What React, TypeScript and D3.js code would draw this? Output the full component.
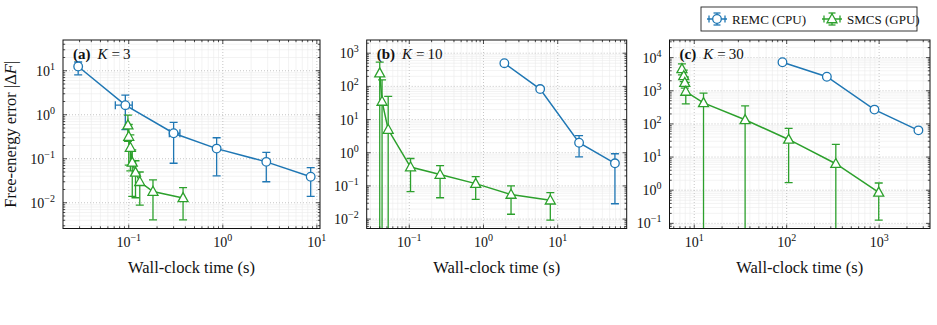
import React from 'react';
import * as d3 from 'd3';

const BLUE = '#1f77b4';
const GREEN = '#2ca02c';
const FONT = "'Liberation Serif', 'Times New Roman', 'DejaVu Serif', serif";

const seriesNames = ['REMC (CPU)', 'SMCS (GPU)'];

// K = 3
const remcTimeA = [0.029, 0.092, 0.3, 0.86, 2.9, 8.6];
const remcTimeLoA = [0.029, 0.072, 0.27, 0.86, 2.9, 8.6];
const remcTimeHiA = [0.029, 0.109, 0.35, 0.86, 2.9, 8.6];
const remcErrA = [12.5, 1.65, 0.38, 0.17, 0.085, 0.039];
const remcLoA = [8.1, 0.46, 0.079, 0.041, 0.03, 0.014];
const remcHiA = [15.8, 2.8, 0.67, 0.3, 0.14, 0.063];
const smcsTimeA = [0.098, 0.1, 0.104, 0.109, 0.118, 0.131, 0.181, 0.378];
const smcsErrA = [0.58, 0.32, 0.18, 0.083, 0.049, 0.03, 0.018, 0.0129];
const smcsLoA = [0.25, 0.072, 0.053, 0.014, 0.013, 0.0088, 0.0041, 0.0041];
const smcsHiA = [0.98, 0.6, 0.35, 0.16, 0.09, 0.05, 0.033, 0.022];

// K = 10
const remcTimeB = [1.91, 5.8, 19.4, 59];
const remcErrB = [500, 83, 2.0, 0.48];
const remcLoB = [440, 73, 0.75, 0.029];
const remcHiB = [560, 93, 3.3, 0.93];
const smcsTimeB = [0.04, 0.043, 0.052, 0.104, 0.26, 0.785, 2.35, 7.95];
const smcsErrB = [250, 35, 5.0, 0.37, 0.22, 0.117, 0.055, 0.037];
const smcsLoB = [0, 0, 0, 0.067, 0.044, 0.039, 0.014, 0.0093];
const smcsHiB = [535, 157, 50, 0.67, 0.41, 0.19, 0.1, 0.063];

// K = 30
const remcTimeC = [90, 272, 890, 2660];
const remcErrC = [7250, 2650, 270, 64];
const remcLoC = [6600, 2400, 245, 58];
const remcHiC = [7900, 2900, 295, 70];
const smcsTimeC = [7.36, 7.7, 7.9, 8.1, 12.6, 35.5, 105, 340, 990];
const smcsErrC = [4550, 2800, 1750, 950, 430, 133, 34, 6.3, 0.86];
const smcsLoC = [3000, 1900, 1200, 400, 0, 0, 1.7, 0, 0.125];
const smcsHiC = [6500, 4200, 2600, 1800, 850, 350, 73, 24, 1.65];

type Series = {
  color: string;
  marker: 'circle' | 'triangle';
  t: number[];
  v: number[];
  lo: number[];
  hi: number[];
  tLo?: number[];
  tHi?: number[];
};

const TOP = 40;
const BOTTOM = 228.5;

const panels = [
  {
    tag: '(a)', K: '3', left: 63, right: 320,
    xDomain: [0.02, 10.8], yDomain: [0.0026, 50],
    series: [
      { color: BLUE, marker: 'circle', t: remcTimeA, v: remcErrA, lo: remcLoA, hi: remcHiA, tLo: remcTimeLoA, tHi: remcTimeHiA },
      { color: GREEN, marker: 'triangle', t: smcsTimeA, v: smcsErrA, lo: smcsLoA, hi: smcsHiA },
    ] as Series[],
  },
  {
    tag: '(b)', K: '10', left: 366.7, right: 626.7,
    xDomain: [0.0267, 85], yDomain: [0.0052, 2500],
    series: [
      { color: BLUE, marker: 'circle', t: remcTimeB, v: remcErrB, lo: remcLoB, hi: remcHiB },
      { color: GREEN, marker: 'triangle', t: smcsTimeB, v: smcsErrB, lo: smcsLoB, hi: smcsHiB },
    ] as Series[],
  },
  {
    tag: '(c)', K: '30', left: 669.5, right: 930,
    xDomain: [5.4, 3550], yDomain: [0.07, 34000],
    series: [
      { color: BLUE, marker: 'circle', t: remcTimeC, v: remcErrC, lo: remcLoC, hi: remcHiC },
      { color: GREEN, marker: 'triangle', t: smcsTimeC, v: smcsErrC, lo: smcsLoC, hi: smcsHiC },
    ] as Series[],
  },
];

function decades(dom: number[]) {
  const out: number[] = [];
  for (let e = Math.ceil(Math.log10(dom[0])); e <= Math.floor(Math.log10(dom[1])); e++) out.push(e);
  return out;
}

function minors(dom: number[]) {
  const out: number[] = [];
  for (let e = Math.floor(Math.log10(dom[0])); e <= Math.floor(Math.log10(dom[1])); e++) {
    for (let k = 2; k <= 9; k++) {
      const v = k * Math.pow(10, e);
      if (v > dom[0] && v < dom[1]) out.push(v);
    }
  }
  return out;
}

const expLabel = (e: number) => (e < 0 ? '\u2212' + Math.abs(e) : String(e));

function Marker({ kind, cx, cy, color }: { kind: string; cx: number; cy: number; color: string }) {
  if (kind === 'circle') {
    return <circle cx={cx} cy={cy} r={4.3} fill="white" stroke={color} strokeWidth={1.3} />;
  }
  const s = 5;
  const pts = [[cx, cy - s * 1.05], [cx - s, cy + s * 0.75], [cx + s, cy + s * 0.75]];
  return <polygon points={pts.map(p => p.join(',')).join(' ')} fill="white" stroke={color} strokeWidth={1.3} />;
}

function Panel({ cfg, idx }: { cfg: typeof panels[number]; idx: number }) {
  const x = d3.scaleLog().domain(cfg.xDomain).range([cfg.left, cfg.right]);
  const y = d3.scaleLog().domain(cfg.yDomain).range([BOTTOM, TOP]);
  const xMaj = decades(cfg.xDomain);
  const yMaj = decades(cfg.yDomain);
  const xMin = minors(cfg.xDomain);
  const yMin = minors(cfg.yDomain);
  const clipId = `clip-${idx}`;
  const yPos = (v: number) => (v > 0 ? y(v) : BOTTOM + 20);
  const cap = 4;

  return (
    <g>
      <defs>
        <clipPath id={clipId}>
          <rect x={cfg.left} y={TOP} width={cfg.right - cfg.left} height={BOTTOM - TOP} />
        </clipPath>
      </defs>
      {/* grid */}
      <g>
        {xMin.map(v => <line key={'gx' + v} x1={x(v)} x2={x(v)} y1={TOP} y2={BOTTOM} stroke="#ebebeb" strokeWidth={0.6} />)}
        {yMin.map(v => <line key={'gy' + v} y1={y(v)} y2={y(v)} x1={cfg.left} x2={cfg.right} stroke="#ebebeb" strokeWidth={0.6} />)}
        {xMaj.map(e => <line key={'GX' + e} x1={x(10 ** e)} x2={x(10 ** e)} y1={TOP} y2={BOTTOM} stroke="#b8b8b8" strokeWidth={0.8} strokeDasharray="1,2" />)}
        {yMaj.map(e => <line key={'GY' + e} y1={y(10 ** e)} y2={y(10 ** e)} x1={cfg.left} x2={cfg.right} stroke="#b8b8b8" strokeWidth={0.8} strokeDasharray="1,2" />)}
      </g>
      {/* data */}
      <g clipPath={`url(#${clipId})`}>
        {cfg.series.map((s, si) => {
          const pts = s.t.map((t, i) => [x(t), y(s.v[i])] as [number, number]);
          return (
            <g key={si}>
              <path d={d3.line()(pts) || ''} fill="none" stroke={s.color} strokeWidth={1.5} />
              {s.t.map((t, i) => {
                const cx = x(t);
                const yl = yPos(s.lo[i]);
                const yh = y(s.hi[i]);
                return (
                  <g key={i} stroke={s.color} strokeWidth={1.3}>
                    <line x1={cx} x2={cx} y1={yl} y2={yh} />
                    <line x1={cx - cap} x2={cx + cap} y1={yh} y2={yh} />
                    {s.lo[i] > 0 && <line x1={cx - cap} x2={cx + cap} y1={yl} y2={yl} />}
                    {s.tLo && s.tHi && s.tLo[i] < t && (
                      <g>
                        <line x1={x(s.tLo[i])} x2={x(s.tHi[i])} y1={y(s.v[i])} y2={y(s.v[i])} />
                        <line x1={x(s.tLo[i])} x2={x(s.tLo[i])} y1={y(s.v[i]) - cap} y2={y(s.v[i]) + cap} />
                        <line x1={x(s.tHi[i])} x2={x(s.tHi[i])} y1={y(s.v[i]) - cap} y2={y(s.v[i]) + cap} />
                      </g>
                    )}
                  </g>
                );
              })}
              {pts.map((p, i) => <Marker key={'m' + i} kind={s.marker} cx={p[0]} cy={p[1]} color={s.color} />)}
            </g>
          );
        })}
      </g>
      {/* ticks on all four sides, pointing in */}
      <g stroke="#222" strokeWidth={0.8}>
        {xMaj.map(e => (
          <g key={'tx' + e}>
            <line x1={x(10 ** e)} x2={x(10 ** e)} y1={BOTTOM} y2={BOTTOM - 4} />
            <line x1={x(10 ** e)} x2={x(10 ** e)} y1={TOP} y2={TOP + 4} />
          </g>
        ))}
        {xMin.map(v => (
          <g key={'mx' + v}>
            <line x1={x(v)} x2={x(v)} y1={BOTTOM} y2={BOTTOM - 2.2} />
            <line x1={x(v)} x2={x(v)} y1={TOP} y2={TOP + 2.2} />
          </g>
        ))}
        {yMaj.map(e => (
          <g key={'ty' + e}>
            <line y1={y(10 ** e)} y2={y(10 ** e)} x1={cfg.left} x2={cfg.left + 4} />
            <line y1={y(10 ** e)} y2={y(10 ** e)} x1={cfg.right} x2={cfg.right - 4} />
          </g>
        ))}
        {yMin.map(v => (
          <g key={'my' + v}>
            <line y1={y(v)} y2={y(v)} x1={cfg.left} x2={cfg.left + 2.2} />
            <line y1={y(v)} y2={y(v)} x1={cfg.right} x2={cfg.right - 2.2} />
          </g>
        ))}
      </g>
      <rect x={cfg.left} y={TOP} width={cfg.right - cfg.left} height={BOTTOM - TOP} fill="none" stroke="#111" strokeWidth={1} />
      {/* tick labels */}
      <g fontFamily={FONT} fill="#111">
        {xMaj.map(e => (
          <text key={'lx' + e} x={x(10 ** e)} y={BOTTOM + 18} textAnchor="middle" fontSize={14}>
            10<tspan fontSize={10} dy={-6}>{expLabel(e)}</tspan>
          </text>
        ))}
        {yMaj.map(e => (
          <text key={'ly' + e} x={cfg.left - 8} y={y(10 ** e) + 5} textAnchor="end" fontSize={14}>
            10<tspan fontSize={10} dy={-6}>{expLabel(e)}</tspan>
          </text>
        ))}
        <text x={(cfg.left + cfg.right) / 2} y={BOTTOM + 44} textAnchor="middle" fontSize={16.5}>
          Wall-clock time (s)
        </text>
        <text x={cfg.left + 10} y={58.5} fontSize={15}>
          <tspan fontWeight="bold">{cfg.tag}</tspan>
          <tspan dx={7} fontStyle="italic">K</tspan>
          <tspan dx={1}>{'\u2009=\u2009' + cfg.K}</tspan>
        </text>
      </g>
    </g>
  );
}

function LegendGlyph({ cx, cy, color, kind }: { cx: number; cy: number; color: string; kind: string }) {
  return (
    <g stroke={color} strokeWidth={1.3}>
      <line x1={cx - 10} x2={cx + 10} y1={cy} y2={cy} strokeWidth={1.5} />
      <line x1={cx - 8} x2={cx - 8} y1={cy - 3.5} y2={cy + 3.5} />
      <line x1={cx + 8} x2={cx + 8} y1={cy - 3.5} y2={cy + 3.5} />
      <line x1={cx} x2={cx} y1={cy - 6} y2={cy + 6} />
      <line x1={cx - 3.5} x2={cx + 3.5} y1={cy - 6} y2={cy - 6} />
      <line x1={cx - 3.5} x2={cx + 3.5} y1={cy + 6} y2={cy + 6} />
      <Marker kind={kind} cx={cx} cy={cy} color={color} />
    </g>
  );
}

export default function App() {
  return (
    <svg width={937} height={325} style={{ position: 'absolute', left: 0, top: 0, background: 'white' }}>
      <rect width={937} height={325} fill="white" />
      {panels.map((p, i) => <Panel key={i} cfg={p} idx={i} />)}
      <text
        transform={`translate(16, ${(TOP + BOTTOM) / 2}) rotate(-90)`}
        textAnchor="middle"
        fontFamily={FONT}
        fontSize={16.5}
        fill="#111"
      >
        Free-energy error |Δ<tspan fontStyle="italic">F</tspan>|
      </text>
      {/* legend */}
      <g>
        <rect x={701} y={7} width={216} height={24} fill="white" stroke="#222" strokeWidth={0.9} />
        <LegendGlyph cx={717} cy={19} color={BLUE} kind="circle" />
        <text x={732} y={23.5} fontFamily={FONT} fontSize={13} fill="#111">{seriesNames[0]}</text>
        <LegendGlyph cx={832} cy={19} color={GREEN} kind="triangle" />
        <text x={847} y={23.5} fontFamily={FONT} fontSize={13} fill="#111">{seriesNames[1]}</text>
      </g>
    </svg>
  );
}
